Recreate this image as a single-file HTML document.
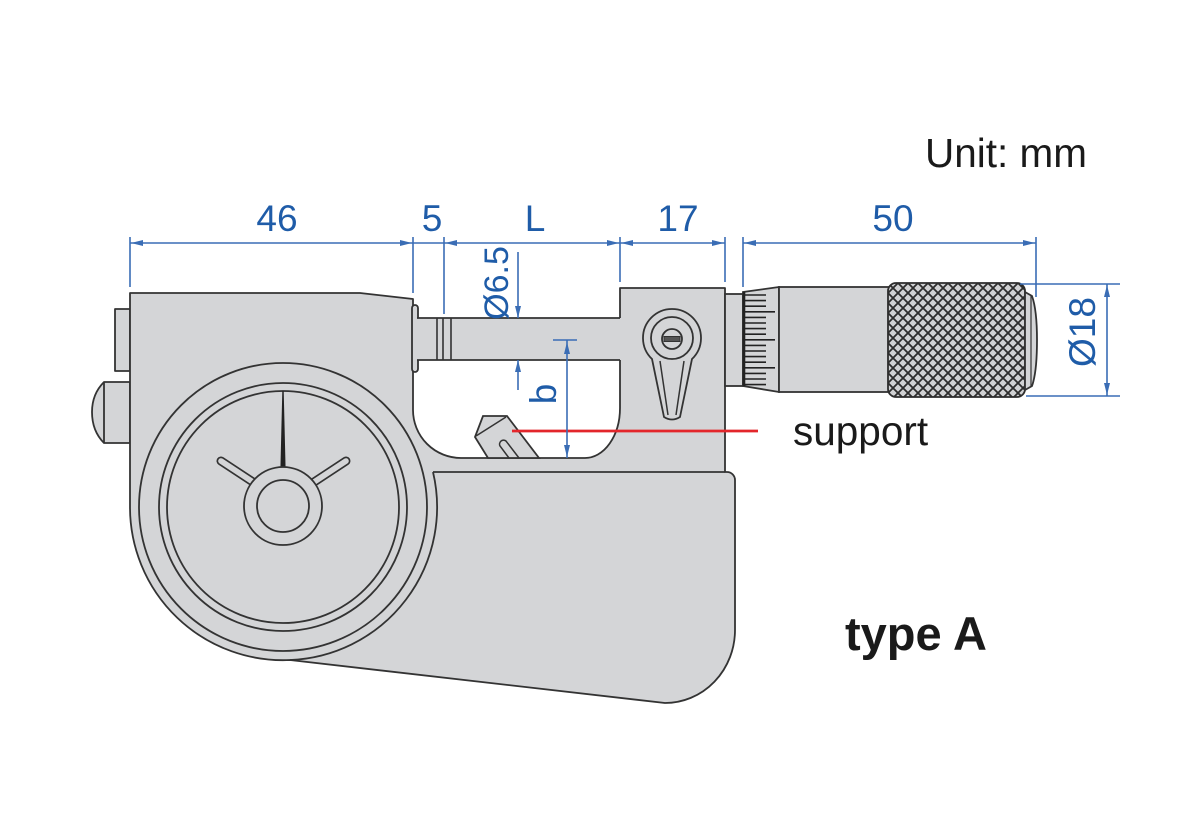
<!DOCTYPE html>
<html><head><meta charset="utf-8"><style>
html,body{margin:0;padding:0;background:#fff;}
svg{display:block;}
</style></head><body>
<svg width="1200" height="840" viewBox="0 0 1200 840" xmlns="http://www.w3.org/2000/svg">
<defs>
<pattern id="kn" patternUnits="userSpaceOnUse" x="888" y="283" width="10" height="10">
<rect width="10" height="10" fill="#d0d1d3"/>
<path d="M-1,-1 L11,11 M-1,11 L11,-1" stroke="#2d2d2d" stroke-width="1.8"/>
</pattern>
</defs>
<rect width="1200" height="840" fill="#fff"/>

<g stroke="#333" stroke-width="1.8" fill="#d4d5d7" stroke-linejoin="round">
<rect x="115" y="309" width="15" height="62"/>
<path d="M130,382 L104,382 Q92,394 92,412 Q92,431 104,443 L130,443 Z"/>
<line x1="104" y1="382" x2="104" y2="443"/>

<path d="M130,293 L360,293 L413,299 L413,410 A48,48 0 0 0 461,458 L585,458 A35,50 0 0 0 620,408 L620,288 L725,288 L725,472 L727,472 A8,8 0 0 1 735,480 L735,630 A70,73 0 0 1 665,703 L290,660 A153,153 0 0 1 130,507 Z"/>
<path d="M433,472 L725,472" fill="none"/>
<path d="M433,472 A153,153 0 0 1 290,660" fill="none"/>

<circle cx="283" cy="507" r="144" fill="none"/>
<circle cx="283" cy="507" r="124" fill="none"/>
<circle cx="283" cy="507" r="116" fill="none"/>
</g>

<g stroke-linecap="round">
<line x1="221" y1="461" x2="262" y2="488" stroke="#333" stroke-width="9"/>
<line x1="221" y1="461" x2="262" y2="488" stroke="#d4d5d7" stroke-width="5.6"/>
<line x1="346" y1="461" x2="305" y2="488" stroke="#333" stroke-width="9"/>
<line x1="346" y1="461" x2="305" y2="488" stroke="#d4d5d7" stroke-width="5.6"/>
</g>
<polygon points="282.3,391 283.7,391 285.6,469 280.4,469" fill="#222"/>
<g stroke="#333" stroke-width="1.8" fill="#d4d5d7">
<circle cx="283" cy="506" r="39"/>
<circle cx="283" cy="506" r="26"/>

<rect x="412" y="305" width="6" height="67" rx="3"/>
<rect x="417" y="318" width="204" height="42" stroke="none"/>
<path d="M417,318 L620,318 M417,360 L620,360" fill="none"/>
<path d="M437,318 L437,360 M443,318 L443,360 M451,318 L451,360" fill="none" stroke-width="1.6"/>

<path d="M475,437 L483,416 L507,416 L539,458 L488,458 Z"/>
<path d="M476,436 L506,417" fill="none" stroke-width="1.5"/>
<path d="M509,458 L500,446 A4,4 0 0 1 506,441 L519,458" fill="none" stroke-width="1.5"/>

<path d="M652,359 A29,29 0 1 1 692,359 L680,417 Q672,422 664,417 Z"/>
<circle cx="672" cy="338" r="21" fill="none"/>
<path d="M660,361 L668,415 M684,361 L676,415" fill="none" stroke-width="1.5"/>
<circle cx="672" cy="339" r="10"/>
<rect x="664" y="336.5" width="16" height="5" fill="#555" stroke-width="1"/>

<rect x="725" y="294" width="18" height="92"/>
<path d="M743,292 L779,287 L779,392 L743,386 Z"/>
<rect x="779" y="287" width="110" height="105"/>
<rect x="888" y="283" width="137" height="114" rx="8" fill="url(#kn)" stroke="#2d2d2d"/>
<path d="M1025,292 L1032,296 Q1037,310 1037,340 Q1037,372 1032,386 L1025,390 Z"/>
<line x1="1031" y1="296" x2="1031" y2="386" stroke-width="1.2"/>
</g>
<line x1="744" y1="292" x2="744" y2="386" stroke="#222" stroke-width="2.6"/>
<g stroke="#222" stroke-width="1.6">
<line x1="745" y1="295" x2="766" y2="295"/>
<line x1="745" y1="300.6" x2="766" y2="300.6"/>
<line x1="745" y1="306.2" x2="766" y2="306.2"/>
<line x1="745" y1="311.8" x2="775" y2="311.8"/>
<line x1="745" y1="317.4" x2="766" y2="317.4"/>
<line x1="745" y1="323" x2="766" y2="323"/>
<line x1="745" y1="328.6" x2="766" y2="328.6"/>
<line x1="745" y1="334.2" x2="766" y2="334.2"/>
<line x1="745" y1="339.8" x2="775" y2="339.8"/>
<line x1="745" y1="345.4" x2="766" y2="345.4"/>
<line x1="745" y1="351" x2="766" y2="351"/>
<line x1="745" y1="356.6" x2="766" y2="356.6"/>
<line x1="745" y1="362.2" x2="766" y2="362.2"/>
<line x1="745" y1="367.8" x2="775" y2="367.8"/>
<line x1="745" y1="373.4" x2="766" y2="373.4"/>
<line x1="745" y1="379" x2="766" y2="379"/>
<line x1="745" y1="384.6" x2="766" y2="384.6"/>
</g>

<line x1="512" y1="431" x2="758" y2="431" stroke="#e3262b" stroke-width="2.8"/>

<g stroke="#3a6db5" stroke-width="1.6" fill="none">
<line x1="130" y1="237" x2="130" y2="287"/>
<line x1="413" y1="237" x2="413" y2="293"/>
<line x1="444" y1="237" x2="444" y2="314"/>
<line x1="620" y1="237" x2="620" y2="282"/>
<line x1="725" y1="237" x2="725" y2="282"/>
<line x1="743" y1="237" x2="743" y2="287"/>
<line x1="1036" y1="237" x2="1036" y2="297"/>
<line x1="130" y1="243" x2="725" y2="243"/>
<line x1="743" y1="243" x2="1036" y2="243"/>
<line x1="1020" y1="284" x2="1120" y2="284"/>
<line x1="1026" y1="396" x2="1120" y2="396"/>
<line x1="1107" y1="284" x2="1107" y2="396"/>
<line x1="518" y1="252" x2="518" y2="318"/>
<line x1="518" y1="360" x2="518" y2="390"/>
<line x1="553" y1="340" x2="577" y2="340"/>
<line x1="567" y1="340" x2="567" y2="458"/>
</g>
<g fill="#3a6db5">
<polygon points="131,243 143,240 143,246"/>
<polygon points="412,243 400,240 400,246"/>
<polygon points="445,243 457,240 457,246"/>
<polygon points="619,243 607,240 607,246"/>
<polygon points="621,243 633,240 633,246"/>
<polygon points="724,243 712,240 712,246"/>
<polygon points="744,243 756,240 756,246"/>
<polygon points="1035,243 1023,240 1023,246"/>
<polygon points="1107,285 1104,297 1110,297"/>
<polygon points="1107,395 1104,383 1110,383"/>
<polygon points="518,318 515,306 521,306"/>
<polygon points="518,360 515,372 521,372"/>
<polygon points="567,342 564,354 570,354"/>
<polygon points="567,457 564,445 570,445"/>
</g>

<g font-family="'Liberation Sans', Arial, sans-serif" fill="#1f5ca8" font-size="37" text-anchor="middle">
<text x="277" y="231">46</text>
<text x="432" y="231">5</text>
<text x="535" y="231">L</text>
<text x="678" y="231">17</text>
<text x="893" y="231">50</text>
<text transform="translate(508,283) rotate(-90)" font-size="34">Ø6.5</text>
<text transform="translate(556,394) rotate(-90)">b</text>
<text transform="translate(1095,332) rotate(-90)">Ø18</text>
</g>

<g font-family="'Liberation Sans', Arial, sans-serif" fill="#1a1a1a">
<text x="925" y="167" font-size="40.5">Unit: mm</text>
<text x="793" y="445" font-size="40.5">support</text>
<text x="845" y="650" font-size="47" font-weight="bold">type A</text>
</g>
</svg>
</body></html>
